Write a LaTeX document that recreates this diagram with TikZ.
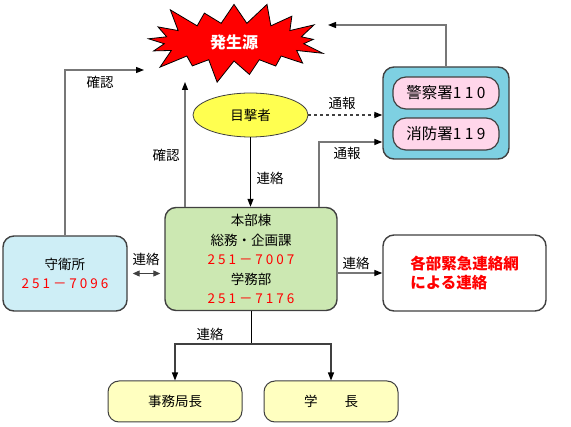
\documentclass[tikz,border=0pt]{standalone}
\usepackage{fontspec}
\setmainfont{Noto Sans CJK JP}
\newfontfamily\numfont[LetterSpace=22]{Noto Sans CJK JP}
\usepackage{xcolor}
\usetikzlibrary{shapes.geometric, shapes.symbols, arrows.meta, positioning}

\definecolor{edgegray}{HTML}{404040}
\definecolor{wiregray}{HTML}{777777}
\definecolor{alarmcyan}{HTML}{7ED0E2}
\definecolor{pillpink}{HTML}{FFD6EA}
\definecolor{hqgreen}{HTML}{CCE8B2}
\definecolor{guardblue}{HTML}{CEEEF6}
\definecolor{chiefyellow}{HTML}{FFFFC0}
\definecolor{witnessyellow}{HTML}{FFFF50}

\newcommand{\telno}[1]{{\numfont\color{red}#1}}

\begin{document}
\begin{tikzpicture}[
    x=1pt, y=-1pt,
    txt/.style={font=\fontsize{13.5}{19.5}\selectfont},
    box/.style={draw=edgegray, line width=1.4pt, rounded corners=11pt, align=center, txt, inner sep=0pt},
    hqbox/.style={box, fill=hqgreen, minimum width=172pt, minimum height=103pt},
    guardbox/.style={box, fill=guardblue, minimum width=124pt, minimum height=75pt},
    netbox/.style={box, fill=white, minimum width=163pt, minimum height=76pt, align=left, text=red, font=\fontsize{15.5}{18.5}\selectfont\bfseries},
    chiefbox/.style={box, fill=chiefyellow, minimum width=134pt, minimum height=41pt, line width=1pt},
    alarmbox/.style={box, fill=alarmcyan, minimum width=126pt, minimum height=92pt},
    pill/.style={box, fill=pillpink, minimum width=106pt, minimum height=32pt, rounded corners=13pt, line width=1.2pt, font=\fontsize{15.5}{18}\selectfont},
    witnessbox/.style={ellipse, draw=edgegray, line width=0.8pt, fill=witnessyellow, minimum width=115pt, minimum height=44pt, inner sep=0pt, txt},
    burst/.style={starburst, starburst points=17, starburst point height=26pt, draw=black, line width=0.8pt, fill=red, text=white, minimum width=192pt, minimum height=90pt, font=\fontsize{16}{18}\selectfont\bfseries},
    arr/.style={-{Triangle[length=8pt, width=6pt, color=black]}, line width=1.3pt, draw=wiregray},
    darr/.style={{Triangle[length=7pt, width=6pt]}-{Triangle[length=7pt, width=6pt]}, line width=1pt, draw=edgegray},
]
\useasboundingbox (0,0) rectangle (571,427);

% Source of the fire
\node[burst] (source) at (234,42) {発生源};

% Witness and the outside services
\node[witnessbox] (witness) at (250.5,115) {目撃者};
\node[alarmbox] (alarm) at (446,113) {};
\node[pill] (police) at (446,93) {警察署{\numfont 110}};
\node[pill] (fire) at (446,134) {消防署{\numfont 119}};

% Headquarters and guard room
\node[hqbox] (hq) at (251,259) {本部棟\\総務・企画課\\\telno{251－7007}\\学務部\\\telno{251－7176}};
\node[guardbox] (guard) at (65,273.5) {守衛所\\\telno{251－7096}};
\node[netbox] (net) at (464.5,273) {各部緊急連絡網\\による連絡};

% Heads to be told
\node[chiefbox] (chief) at (175,401.5) {事務局長};
\node[chiefbox] (pres) at (331,401.5) {学　　長};

% Free ends near the jagged outline
\coordinate (srcL) at (144,70);
\coordinate (srcB) at (185,82);
\coordinate (srcR) at (328,25);
\coordinate (split) at (251,344);

% Arrows — confirming the source
\draw[arr] (guard.north) |- (srcL);
\node[txt] (lblGuard) at (100,82) {確認};
\draw[arr] (srcB |- hq.north) -- (srcB);
\node[txt] (lblHqUp) at (166,155) {確認};

% Arrows — witness reports
\draw[arr, dashed, draw=edgegray] (witness.east) -- (witness.east -| alarm.west);
\node[txt] (lblDash) at (342,103) {通報};
\draw[-{Triangle[length=8pt, width=6pt]}, line width=1pt] (witness.south) -- (witness.south |- hq.north);
\node[txt] (lblWit) at (270,178) {連絡};

% Arrows — headquarters reports and calls back
\draw[arr] ([xshift=68pt]hq.north) |- ([yshift=-29pt]alarm.west);
\node[txt] (lblNotify) at (347,153) {通報};
\draw[arr] (alarm.north) |- (srcR);

% Arrows — guard room and departments
\draw[darr] ([xshift=5pt]guard.east) -- ([xshift=-4pt]guard.east -| hq.west);
\node[txt] (lblGuardHq) at (146,259) {連絡};
\draw[arr] (hq.east |- net.west) -- (net.west);
\node[txt] (lblNet) at (356,263) {連絡};

% Arrows — down to the heads
\draw[line width=1pt] (hq.south) -- (split);
\draw[arr, draw=edgegray] (split) -| (chief.north);
\draw[arr, draw=edgegray] (split) -| (pres.north);
\node[txt] (lblDown) at (210,334) {連絡};

\end{tikzpicture}
\end{document}
